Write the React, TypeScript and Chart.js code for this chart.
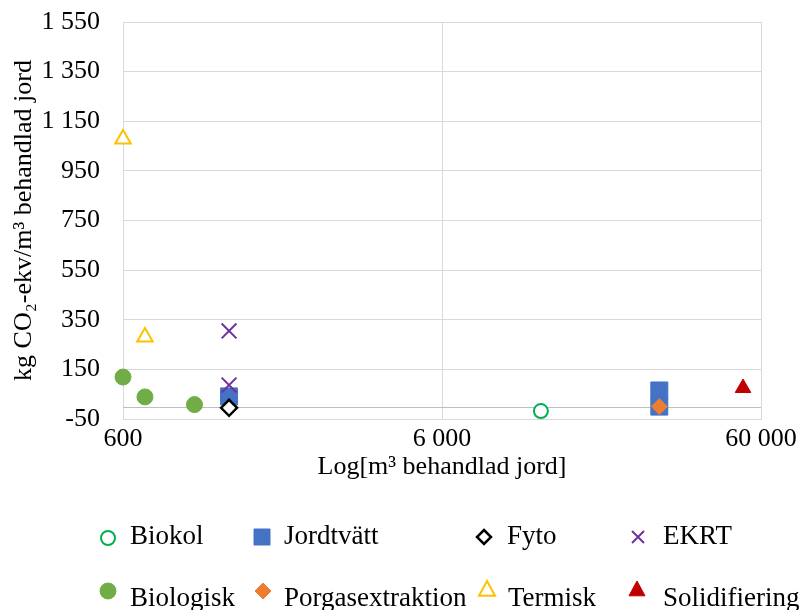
import React, { useEffect, useRef } from 'react';
import { Chart, registerables } from 'chart.js';

Chart.register(...registerables);

// ---- data ----
const seriesNames = ['Biokol', 'Jordtvätt', 'Fyto', 'EKRT', 'Biologisk', 'Porgasextraktion', 'Termisk', 'Solidifiering'];
const biokolX = [12250];
const biokolY = [-18];
const jordtvattX = [1290, 28800, 28800];
const jordtvattY = [41, 65, 0];
const fytoX = [1290];
const fytoY = [-5];
const ekrtX = [1290, 1290];
const ekrtY = [305, 87];
const biologiskX = [600, 703, 1005];
const biologiskY = [119, 39, 8];
const porgasX = [28800];
const porgasY = [0];
const termiskX = [600, 703];
const termiskY = [1078, 280];
const solidX = [52700];
const solidY = [75];
const xTicks = [600, 6000, 60000];
const yTicks = [-50, 150, 350, 550, 750, 950, 1150, 1350, 1550];
const xTitle = 'Log[m³ behandlad jord]';
const yTitle = 'kg CO₂-ekv/m³ behandlad jord';

const FONT = '"Liberation Serif", "Times New Roman", serif';

const fmt = (v: number) => String(Math.round(v)).replace(/\B(?=(\d{3})+(?!\d))/g, ' ');
const pts = (xs: number[], ys: number[]) => xs.map((x, i) => ({ x, y: ys[i] }));

type Marker = { kind: string; fill: string | null; stroke: string; lw: number; size: number };
const markers: Marker[] = [
  { kind: 'circle', fill: '#ffffff', stroke: '#00b050', lw: 2, size: 7 },
  { kind: 'rect', fill: '#4472c4', stroke: '#4472c4', lw: 1, size: 8 },
  { kind: 'diamond', fill: '#ffffff', stroke: '#000000', lw: 2.5, size: 7 },
  { kind: 'cross', fill: null, stroke: '#7030a0', lw: 2, size: 6 },
  { kind: 'circle', fill: '#70ad47', stroke: '#70ad47', lw: 1, size: 8 },
  { kind: 'diamond', fill: '#ed7d31', stroke: '#ed7d31', lw: 1, size: 8 },
  { kind: 'triangle', fill: '#ffffff', stroke: '#ffc000', lw: 2, size: 8 },
  { kind: 'triangle', fill: '#c00000', stroke: '#c00000', lw: 1, size: 8 },
];

const legendPos = [
  { mx: 108, my: 538, tx: 130, ty: 544 },
  { mx: 262, my: 537, tx: 284, ty: 544 },
  { mx: 484, my: 537, tx: 507, ty: 544 },
  { mx: 638, my: 537, tx: 663, ty: 544 },
  { mx: 108, my: 591, tx: 130, ty: 606 },
  { mx: 263, my: 591, tx: 284, ty: 606 },
  { mx: 487, my: 589, tx: 508, ty: 606 },
  { mx: 637, my: 589, tx: 663, ty: 606 },
];

function drawMarker(ctx: CanvasRenderingContext2D, m: Marker, x: number, y: number) {
  ctx.save();
  ctx.lineWidth = m.lw;
  ctx.strokeStyle = m.stroke;
  ctx.beginPath();
  const s = m.size;
  if (m.kind === 'circle') {
    ctx.arc(x, y, s, 0, Math.PI * 2);
  } else if (m.kind === 'rect') {
    ctx.rect(x - s, y - s, 2 * s, 2 * s);
  } else if (m.kind === 'diamond') {
    ctx.moveTo(x, y - s);
    ctx.lineTo(x + s, y);
    ctx.lineTo(x, y + s);
    ctx.lineTo(x - s, y);
    ctx.closePath();
  } else if (m.kind === 'cross') {
    ctx.moveTo(x - s, y - s);
    ctx.lineTo(x + s, y + s);
    ctx.moveTo(x + s, y - s);
    ctx.lineTo(x - s, y + s);
  } else if (m.kind === 'triangle') {
    ctx.moveTo(x, y - s);
    ctx.lineTo(x + s, y + s * 0.85);
    ctx.lineTo(x - s, y + s * 0.85);
    ctx.closePath();
  }
  if (m.fill) {
    ctx.fillStyle = m.fill;
    ctx.fill();
  }
  ctx.stroke();
  ctx.restore();
}

const zeroLinePlugin = {
  id: 'zeroLine',
  beforeDatasetsDraw(chart: any) {
    const { ctx, chartArea } = chart;
    const y = Math.round(chart.scales.y.getPixelForValue(0)) + 0.5;
    ctx.save();
    ctx.strokeStyle = '#bfbfbf';
    ctx.lineWidth = 1;
    ctx.beginPath();
    ctx.moveTo(chartArea.left, y);
    ctx.lineTo(chartArea.right, y);
    ctx.stroke();
    ctx.restore();
  },
};

const legendPlugin = {
  id: 'customLegend',
  afterDraw(chart: any) {
    const ctx = chart.ctx as CanvasRenderingContext2D;
    ctx.save();
    ctx.font = `27px ${FONT}`;
    ctx.fillStyle = '#000000';
    ctx.textBaseline = 'alphabetic';
    ctx.textAlign = 'left';
    seriesNames.forEach((name, i) => {
      const p = legendPos[i];
      drawMarker(ctx, markers[i], p.mx, p.my);
      ctx.fillStyle = '#000000';
      ctx.fillText(name, p.tx, p.ty);
    });
    ctx.restore();
  },
};

export default function App() {
  const ref = useRef<HTMLCanvasElement>(null);

  useEffect(() => {
    document.body.style.margin = '0';
    const canvas = ref.current;
    if (!canvas) return;
    const series = [
      { x: biokolX, y: biokolY, style: 'circle', r: 7 },
      { x: jordtvattX, y: jordtvattY, style: 'rect', r: 12 },
      { x: fytoX, y: fytoY, style: 'rectRot', r: 8 },
      { x: ekrtX, y: ekrtY, style: 'crossRot', r: 10.5 },
      { x: biologiskX, y: biologiskY, style: 'circle', r: 8 },
      { x: porgasX, y: porgasY, style: 'rectRot', r: 8 },
      { x: termiskX, y: termiskY, style: 'triangle', r: 9 },
      { x: solidX, y: solidY, style: 'triangle', r: 9 },
    ];
    const datasets = series.map((s, i) => ({
      label: seriesNames[i],
      data: pts(s.x, s.y),
      pointStyle: s.style,
      pointRadius: s.r,
      pointHoverRadius: s.r,
      backgroundColor: markers[i].fill ?? 'rgba(0,0,0,0)',
      borderColor: markers[i].stroke,
      pointBorderWidth: markers[i].lw,
      borderWidth: markers[i].lw,
      order: 8 - i,
      clip: false as any,
    }));

    const chart = new Chart(canvas, {
      type: 'scatter',
      data: { datasets },
      options: {
        responsive: false,
        animation: false,
        events: [],
        layout: { padding: { left: 0, top: 22, right: 39, bottom: 110 } },
        plugins: { legend: { display: false }, tooltip: { enabled: false } },
        scales: {
          x: {
            type: 'logarithmic',
            min: 600,
            max: 60000,
            afterBuildTicks: (scale: any) => {
              scale.ticks = xTicks.map((v) => ({ value: v }));
            },
            afterFit: (scale: any) => {
              scale.height = 81;
              scale.paddingLeft = 0;
              scale.paddingRight = 0;
            },
            ticks: {
              autoSkip: false,
              maxRotation: 0,
              padding: 5,
              color: '#000000',
              font: { family: FONT, size: 26 },
              callback: (v: any) => fmt(Number(v)),
            },
            grid: { color: '#d9d9d9', drawTicks: false, lineWidth: 1 },
            border: { display: true, color: '#d9d9d9' },
            title: {
              display: true,
              text: xTitle,
              color: '#000000',
              font: { family: FONT, size: 26 },
              padding: { top: 0, bottom: 17 },
            },
          },
          y: {
            type: 'linear',
            min: -50,
            max: 1550,
            afterBuildTicks: (scale: any) => {
              scale.ticks = yTicks.map((v) => ({ value: v }));
            },
            afterFit: (scale: any) => {
              scale.width = 123;
              scale.paddingTop = 0;
              scale.paddingBottom = 0;
            },
            ticks: {
              padding: 23,
              color: '#000000',
              font: { family: FONT, size: 26 },
              callback: (v: any) => fmt(Number(v)),
            },
            grid: { color: '#d9d9d9', drawTicks: false, lineWidth: 1 },
            border: { display: true, color: '#d9d9d9' },
            title: {
              display: true,
              text: yTitle,
              color: '#000000',
              font: { family: FONT, size: 26 },
              padding: { top: 9, bottom: 0 },
            },
          },
        },
      },
      plugins: [zeroLinePlugin, legendPlugin],
    });
    return () => chart.destroy();
  }, []);

  return (
    <div style={{ width: 800, height: 610 }}>
      <canvas ref={ref} width={800} height={610} style={{ display: 'block', width: 800, height: 610 }} />
    </div>
  );
}
